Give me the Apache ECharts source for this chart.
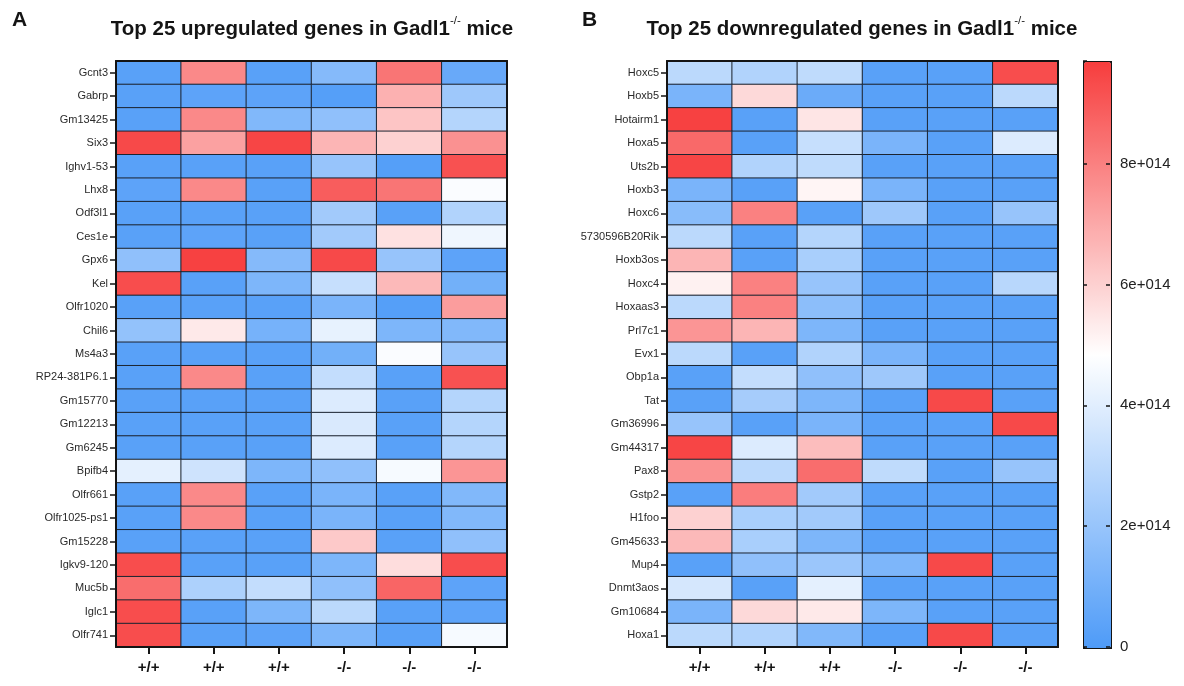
<!DOCTYPE html>
<html>
<head>
<meta charset="utf-8">
<script src="https://cdn.jsdelivr.net/npm/echarts@6/dist/echarts.min.js"></script>
<style>
html,body{margin:0;padding:0;background:#fff;}
#chart{width:1184px;height:686px;}
</style>
</head>
<body>
<div id="chart"></div>
<script>
// Column (genotype) labels
const genotypes = ['+/+', '+/+', '+/+', '-/-', '-/-', '-/-'];

// Panel A genes (top to bottom)
const upGenes = ['Gcnt3','Gabrp','Gm13425','Six3','Ighv1-53','Lhx8','Odf3l1','Ces1e','Gpx6','Kel',
  'Olfr1020','Chil6','Ms4a3','RP24-381P6.1','Gm15770','Gm12213','Gm6245','Bpifb4','Olfr661',
  'Olfr1025-ps1','Gm15228','Igkv9-120','Muc5b','Iglc1','Olfr741'];

// Panel A values (units of 1e14), one row per gene, columns = genotypes
const upValues = [
  [0.3, 7.8, 0.3, 1.5, 8.3, 0.7],
  [0.3, 0.4, 0.4, 0.2, 6.8, 2.2],
  [0.3, 7.8, 1.4, 1.8, 6.3, 2.8],
  [9.4, 7.2, 9.5, 6.7, 6.0, 7.6],
  [0.3, 0.3, 0.3, 2.0, 0.2, 9.2],
  [0.4, 7.8, 0.3, 8.9, 8.3, 4.7],
  [0.3, 0.3, 0.3, 2.3, 0.3, 2.7],
  [0.3, 0.4, 0.3, 2.3, 5.6, 4.4],
  [1.8, 9.6, 1.5, 9.4, 2.0, 0.4],
  [9.3, 0.3, 1.3, 3.3, 6.6, 1.0],
  [0.3, 0.3, 0.3, 1.2, 0.2, 7.3],
  [1.9, 5.4, 1.1, 4.2, 1.3, 1.4],
  [0.3, 0.3, 0.3, 1.0, 4.7, 2.0],
  [0.3, 7.8, 0.3, 3.2, 0.3, 9.2],
  [0.3, 0.3, 0.3, 3.9, 0.3, 2.8],
  [0.3, 0.3, 0.3, 3.8, 0.3, 2.8],
  [0.3, 0.3, 0.3, 3.9, 0.3, 2.8],
  [4.1, 3.5, 1.3, 1.8, 4.6, 7.5],
  [0.3, 7.8, 0.3, 1.2, 0.3, 1.4],
  [0.3, 7.8, 0.3, 1.2, 0.3, 1.4],
  [0.3, 0.3, 0.3, 6.2, 0.3, 1.8],
  [9.3, 0.3, 0.3, 1.3, 5.7, 9.3],
  [8.5, 2.6, 3.2, 1.8, 8.7, 0.4],
  [9.3, 0.3, 1.3, 3.0, 0.3, 0.4],
  [9.3, 0.3, 0.4, 1.3, 0.3, 4.6]
];

// Panel B genes (top to bottom)
const downGenes = ['Hoxc5','Hoxb5','Hotairm1','Hoxa5','Uts2b','Hoxb3','Hoxc6','5730596B20Rik','Hoxb3os',
  'Hoxc4','Hoxaas3','Prl7c1','Evx1','Obp1a','Tat','Gm36996','Gm44317','Pax8','Gstp2','H1foo',
  'Gm45633','Mup4','Dnmt3aos','Gm10684','Hoxa1'];

// Panel B values (units of 1e14)
const downValues = [
  [3.0, 2.7, 3.1, 0.3, 0.3, 9.3],
  [1.2, 5.8, 0.8, 0.3, 0.3, 3.0],
  [9.6, 0.3, 5.5, 0.3, 0.3, 0.3],
  [8.6, 0.3, 3.3, 1.2, 0.3, 3.9],
  [9.5, 2.7, 3.1, 0.3, 0.3, 0.3],
  [1.2, 0.3, 5.1, 1.2, 0.3, 0.3],
  [1.6, 8.0, 0.3, 2.2, 0.3, 2.0],
  [3.0, 0.3, 2.8, 0.3, 0.3, 0.3],
  [6.7, 0.3, 2.5, 0.3, 0.3, 0.3],
  [5.2, 8.0, 2.0, 0.3, 0.3, 2.9],
  [3.0, 8.0, 1.7, 0.3, 0.3, 0.3],
  [7.5, 6.7, 1.3, 0.3, 0.3, 0.3],
  [3.0, 0.3, 2.7, 1.2, 0.3, 0.3],
  [0.3, 3.2, 1.8, 2.2, 0.3, 0.3],
  [0.3, 2.4, 1.3, 0.3, 9.4, 0.3],
  [2.0, 0.3, 1.2, 0.3, 0.3, 9.4],
  [9.5, 3.9, 6.5, 0.3, 0.3, 0.3],
  [7.6, 3.0, 8.5, 3.1, 0.3, 2.0],
  [0.3, 8.1, 2.3, 0.3, 0.3, 0.3],
  [6.0, 2.5, 2.3, 0.3, 0.3, 0.3],
  [6.6, 2.5, 1.3, 0.3, 0.3, 0.3],
  [0.3, 1.8, 2.1, 1.3, 9.4, 0.3],
  [3.7, 0.3, 4.1, 0.3, 0.3, 0.3],
  [1.2, 5.8, 5.4, 1.3, 0.3, 0.3],
  [3.0, 2.7, 1.4, 0.3, 9.4, 0.3]
];

// Color scale (units of 1e14)
const scaleMin = 0;
const scaleMax = 9.7;
const scaleInterval = 2;

function toCells(values) {
  const out = [];
  values.forEach((row, r) => row.forEach((v, c) => out.push([c, r, v])));
  return out;
}

const FONT = "'Liberation Sans', Arial, Helvetica, sans-serif";
const INK = '#141414';

function gridAxes(gridIndex, genes) {
  const xs = [
    {
      type: 'category', gridIndex, data: genotypes, position: 'bottom', z: 5,
      axisLine: { show: true, lineStyle: { color: INK, width: 2 } },
      axisTick: { show: true, alignWithLabel: true, length: 7, lineStyle: { color: INK, width: 2 } },
      axisLabel: { color: INK, fontSize: 15, fontWeight: 'bold', fontFamily: FONT, margin: 13 },
      splitLine: { show: false }
    },
    {
      type: 'category', gridIndex, data: genotypes, position: 'top', z: 5,
      axisLine: { show: true, lineStyle: { color: INK, width: 2 } },
      axisTick: { show: false }, axisLabel: { show: false }, splitLine: { show: false }
    }
  ];
  const ys = [
    {
      type: 'category', gridIndex, data: genes, inverse: true, position: 'left', z: 5,
      axisLine: { show: true, lineStyle: { color: INK, width: 2 } },
      axisTick: { show: true, alignWithLabel: true, length: 6, lineStyle: { color: INK, width: 1.5 } },
      axisLabel: { color: '#2a2a2a', fontSize: 11, fontFamily: FONT, margin: 8, interval: 0 },
      splitLine: { show: false }
    },
    {
      type: 'category', gridIndex, data: genes, inverse: true, position: 'right', z: 5,
      axisLine: { show: true, lineStyle: { color: INK, width: 2 } },
      axisTick: { show: false }, axisLabel: { show: false }, splitLine: { show: false }
    }
  ];
  return { xs, ys };
}

const a = gridAxes(0, upGenes);
const b = gridAxes(1, downGenes);

const cbAxisBase = {
  type: 'value', gridIndex: 2, min: scaleMin, max: scaleMax, interval: scaleInterval, z: 6,
  axisLine: { show: false }, splitLine: { show: false }
};

const titleRich = {
  t: { fontSize: 20.5, fontWeight: 'bold', fontFamily: FONT, fill: INK, lineHeight: 25, verticalAlign: 'bottom' },
  s: { fontSize: 11.5, fontFamily: FONT, fill: INK, lineHeight: 12, verticalAlign: 'top' }
};

const option = {
  animation: false,
  backgroundColor: '#ffffff',
  grid: [
    { left: 116, top: 61, width: 391, height: 586 },
    { left: 667, top: 61, width: 391, height: 586 },
    { left: 1083, top: 61, width: 27, height: 586 }
  ],
  xAxis: [...a.xs, ...b.xs, { type: 'value', gridIndex: 2, show: false, min: 0, max: 1 }],
  yAxis: [
    ...a.ys, ...b.ys,
    Object.assign({}, cbAxisBase, {
      position: 'left',
      axisTick: { show: true, inside: true, length: 4, lineStyle: { color: INK, width: 1.5 } },
      axisLabel: { show: false }
    }),
    Object.assign({}, cbAxisBase, {
      position: 'right',
      axisTick: { show: true, inside: true, length: 4, lineStyle: { color: INK, width: 1.5 } },
      axisLabel: {
        show: true, color: '#222', fontSize: 15, fontFamily: FONT, margin: 10,
        showMaxLabel: false,
        formatter: v => (v === 0 ? '0' : v + 'e+014')
      }
    })
  ],
  visualMap: {
    type: 'continuous', min: scaleMin, max: scaleMax, calculable: false,
    seriesIndex: [0, 1], orient: 'vertical',
    left: 1083, top: 61, itemWidth: 27, itemHeight: 586, padding: 0,
    text: null, showLabel: false,
    borderColor: INK, borderWidth: 2,
    inRange: { color: ['#4e9bf8', '#ffffff', '#f73d3d'] }
  },
  series: [
    {
      type: 'heatmap', xAxisIndex: 0, yAxisIndex: 0, data: toCells(upValues),
      itemStyle: { borderColor: '#1c2430', borderWidth: 1 }, emphasis: { disabled: true }
    },
    {
      type: 'heatmap', xAxisIndex: 2, yAxisIndex: 2, data: toCells(downValues),
      itemStyle: { borderColor: '#1c2430', borderWidth: 1 }, emphasis: { disabled: true }
    }
  ],
  graphic: [
    { type: 'text', left: 12, top: 10, style: { text: 'A', fontSize: 21, fontWeight: 'bold', fontFamily: FONT, fill: INK } },
    { type: 'text', left: 582, top: 10, style: { text: 'B', fontSize: 21, fontWeight: 'bold', fontFamily: FONT, fill: INK } },
    {
      type: 'text', x: 312, y: 15,
      style: { text: '{t|Top 25 upregulated genes in Gadl1}{s|-/-}{t| mice}', align: 'center', rich: titleRich }
    },
    {
      type: 'text', x: 862, y: 15,
      style: { text: '{t|Top 25 downregulated genes in Gadl1}{s|-/-}{t| mice}', align: 'center', rich: titleRich }
    }
  ]
};

const chart = echarts.init(document.getElementById('chart'), null, { renderer: 'canvas' });
chart.setOption(option);
</script>
</body>
</html>
